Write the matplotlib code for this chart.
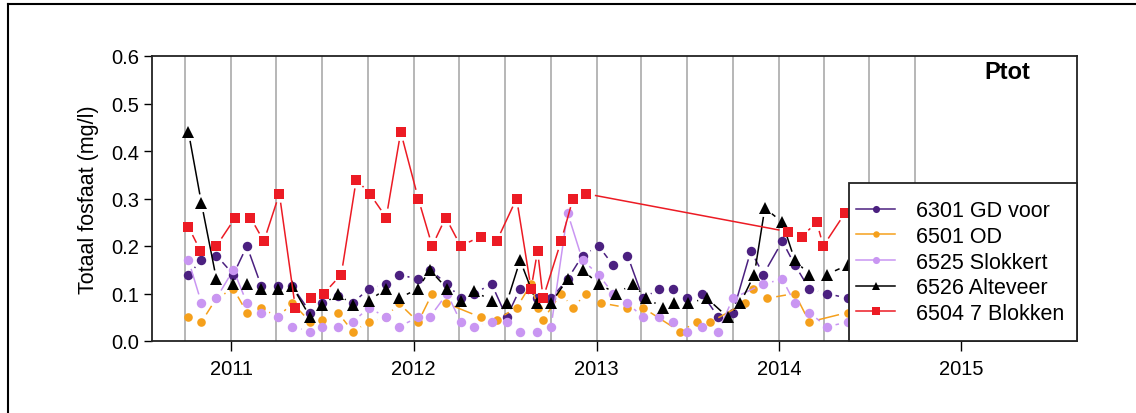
import numpy as np
import pandas as pd
import matplotlib
matplotlib.use("Agg")
import matplotlib.pyplot as plt
import matplotlib.dates as mdates
from matplotlib.collections import LineCollection
from matplotlib.lines import Line2D
from matplotlib.patches import Rectangle

plt.rcParams['font.family'] = ['Liberation Sans', 'DejaVu Sans']

# 6301 GD voor
dates_6301 = ["2010-10-07", "2010-11-02", "2010-12-02", "2011-01-05", "2011-02-01", "2011-03-02",
              "2011-04-04", "2011-05-03", "2011-06-08", "2011-07-02", "2011-08-02", "2011-09-01",
              "2011-10-03", "2011-11-07", "2011-12-02", "2012-01-10", "2012-02-02", "2012-03-08",
              "2012-04-04", "2012-05-01", "2012-06-05", "2012-07-05", "2012-08-01", "2012-09-03",
              "2012-10-02", "2012-11-04", "2012-12-04", "2013-01-05", "2013-02-03", "2013-03-04",
              "2013-04-04", "2013-05-07", "2013-06-03", "2013-07-01", "2013-07-31", "2013-09-02",
              "2013-10-01", "2013-11-06", "2013-12-01", "2014-01-08", "2014-02-02", "2014-03-03",
              "2014-04-07", "2014-05-19"]
ptot_6301 = [0.14, 0.17, 0.18, 0.14, 0.20, 0.115, 0.115, 0.115, 0.06, 0.08, 0.095, 0.08,
             0.11, 0.12, 0.14, 0.13, 0.15, 0.12, 0.09, 0.10, 0.12, 0.05, 0.11, 0.09,
             0.09, 0.13, 0.18, 0.20, 0.16, 0.18, 0.09, 0.11, 0.11, 0.09, 0.10, 0.05,
             0.06, 0.19, 0.14, 0.21, 0.16, 0.11, 0.10, 0.09]

# 6501 OD
dates_6501 = ["2010-10-07", "2010-11-02", "2010-12-02", "2011-01-05", "2011-02-01", "2011-03-02",
              "2011-04-04", "2011-05-03", "2011-06-08", "2011-07-02", "2011-08-02", "2011-09-01",
              "2011-10-03", "2011-11-07", "2011-12-02", "2012-01-10", "2012-02-07", "2012-03-05",
              "2012-05-14", "2012-06-15", "2012-07-25", "2012-08-23", "2012-09-05", "2012-09-16",
              "2012-10-22", "2012-11-15", "2012-12-11", "2013-01-10", "2013-03-04", "2013-04-04",
              "2013-06-17", "2013-07-21", "2013-08-17", "2013-10-26", "2013-11-11", "2013-12-09",
              "2014-02-02", "2014-03-03", "2014-05-19"]
ptot_6501 = [0.05, 0.04, 0.09, 0.11, 0.06, 0.07, 0.05, 0.08, 0.04, 0.045, 0.06, 0.02,
             0.04, 0.05, 0.08, 0.04, 0.10, 0.08, 0.05, 0.045, 0.07, 0.12, 0.07, 0.045,
             0.10, 0.07, 0.10, 0.08, 0.07, 0.07, 0.02, 0.04, 0.04, 0.08, 0.11, 0.09,
             0.10, 0.04, 0.06]

# 6525 Slokkert
dates_6525 = ["2010-10-07", "2010-11-02", "2010-12-02", "2011-01-05", "2011-02-01", "2011-03-02",
              "2011-04-04", "2011-05-03", "2011-06-08", "2011-07-02", "2011-08-02", "2011-09-01",
              "2011-10-03", "2011-11-07", "2011-12-02", "2012-01-10", "2012-02-02", "2012-03-08",
              "2012-04-04", "2012-05-01", "2012-06-05", "2012-07-05", "2012-08-01", "2012-09-03",
              "2012-10-02", "2012-11-04", "2012-12-04", "2013-01-05", "2013-02-03", "2013-03-04",
              "2013-04-04", "2013-05-07", "2013-06-03", "2013-07-01", "2013-07-31", "2013-09-02",
              "2013-10-01", "2013-12-01", "2014-01-08", "2014-02-02", "2014-03-03", "2014-04-07",
              "2014-05-19"]
ptot_6525 = [0.17, 0.08, 0.09, 0.15, 0.08, 0.06, 0.05, 0.03, 0.02, 0.03, 0.03, 0.04,
             0.07, 0.05, 0.03, 0.05, 0.05, 0.10, 0.04, 0.03, 0.04, 0.04, 0.02, 0.02,
             0.03, 0.27, 0.17, 0.14, 0.10, 0.08, 0.05, 0.05, 0.04, 0.02, 0.03, 0.02,
             0.09, 0.12, 0.13, 0.08, 0.06, 0.03, 0.04]

# 6526 Alteveer
dates_6526 = ["2010-10-07", "2010-11-02", "2010-12-02", "2011-01-05", "2011-02-01", "2011-03-02",
              "2011-04-04", "2011-05-03", "2011-06-08", "2011-07-02", "2011-08-02", "2011-09-01",
              "2011-10-03", "2011-11-07", "2011-12-02", "2012-01-10", "2012-02-02", "2012-03-08",
              "2012-04-04", "2012-05-01", "2012-06-05", "2012-07-05", "2012-08-01", "2012-09-03",
              "2012-10-02", "2012-11-04", "2012-12-04", "2013-01-05", "2013-02-10", "2013-03-15",
              "2013-04-11", "2013-05-15", "2013-06-06", "2013-07-04", "2013-08-10", "2013-09-21",
              "2013-10-16", "2013-11-13", "2013-12-04", "2014-01-08", "2014-02-02", "2014-03-03",
              "2014-04-07", "2014-05-19"]
ptot_6526 = [0.44, 0.29, 0.13, 0.12, 0.12, 0.11, 0.11, 0.115, 0.05, 0.075, 0.10, 0.075,
             0.085, 0.11, 0.09, 0.11, 0.15, 0.11, 0.085, 0.105, 0.085, 0.08, 0.17, 0.08,
             0.08, 0.13, 0.15, 0.12, 0.10, 0.12, 0.09, 0.07, 0.08, 0.08, 0.09, 0.05,
             0.08, 0.14, 0.28, 0.25, 0.17, 0.14, 0.14, 0.16]

# 6504 7 Blokken
dates_6504 = ["2010-10-07", "2010-10-31", "2010-12-02", "2011-01-09", "2011-02-08", "2011-03-07",
              "2011-04-07", "2011-05-09", "2011-06-09", "2011-07-05", "2011-08-09", "2011-09-08",
              "2011-10-05", "2011-11-07", "2011-12-06", "2012-01-10", "2012-02-07", "2012-03-05",
              "2012-04-04", "2012-05-14", "2012-06-15", "2012-07-25", "2012-08-23", "2012-09-05",
              "2012-09-16", "2012-10-22", "2012-11-15", "2012-12-11", "2014-01-20", "2014-02-16",
              "2014-03-18", "2014-03-31", "2014-05-14"]
ptot_6504 = [0.24, 0.19, 0.20, 0.26, 0.26, 0.21, 0.31, 0.07, 0.09, 0.10, 0.14, 0.34,
             0.31, 0.26, 0.44, 0.30, 0.20, 0.26, 0.20, 0.22, 0.21, 0.30, 0.11, 0.19,
             0.09, 0.21, 0.30, 0.31, 0.23, 0.22, 0.25, 0.20, 0.27]

series = [
    ("6301 GD voor", dates_6301, ptot_6301, "#4b2080", "o", 6.8),
    ("6501 OD", dates_6501, ptot_6501, "#f5a01c", "o", 6.2),
    ("6525 Slokkert", dates_6525, ptot_6525, "#c996f2", "o", 6.8),
    ("6526 Alteveer", dates_6526, ptot_6526, "#000000", "^", 8.0),
    ("6504 7 Blokken", dates_6504, ptot_6504, "#ec1b24", "s", 7.0),
]

GAP = 9.0  # pixels left open between a marker and its connecting line


def gapped_segments(ax, x, y, gap):
    pts = ax.transData.transform(np.column_stack([x, y]))
    inv = ax.transData.inverted()
    segs = []
    for p, q in zip(pts[:-1], pts[1:]):
        d = q - p
        n = np.hypot(d[0], d[1])
        if n <= 2 * gap:
            continue
        u = d / n
        segs.append(inv.transform(np.array([p + u * gap, q - u * gap])))
    return segs


fig = plt.figure(figsize=(11.36, 4.14), dpi=100)
ax = fig.add_axes([152 / 1136, 1 - 342 / 414, 925 / 1136, 285 / 414])

ax.set_xlim(mdates.date2num(pd.Timestamp("2010-07-26")), mdates.date2num(pd.Timestamp("2015-08-21")))
ax.set_ylim(0, 0.6)

# quarterly vertical grid
for q in pd.date_range("2010-10-01", "2014-10-01", freq="QS"):
    ax.axvline(mdates.date2num(q), color="#a3a3a3", lw=1.1, zorder=0)

handles = []
for i, (name, d, v, col, mk, ms) in enumerate(series):
    x = mdates.date2num(pd.to_datetime(d))
    segs = gapped_segments(ax, x, np.asarray(v), GAP)
    ax.add_collection(LineCollection(segs, colors=col, linewidths=1.1, zorder=2 + i))
    ax.plot(x, v, linestyle="none", marker=mk, ms=ms, color=col, markeredgewidth=0, zorder=2 + i)
    handles.append(Line2D([], [], color=col, lw=1.1, marker=mk, ms=ms * 0.75, markeredgewidth=0))

ax.xaxis.set_major_locator(mdates.YearLocator())
ax.xaxis.set_major_formatter(mdates.DateFormatter("%Y"))
ax.set_yticks(np.arange(0, 0.61, 0.1))
ax.set_yticklabels([f"{t:.1f}" for t in np.arange(0, 0.61, 0.1)])
ax.tick_params(axis="x", direction="out", length=7, width=1, pad=6, labelsize=14.5)
ax.tick_params(axis="y", direction="out", length=6, width=1, pad=3, labelsize=14.5)
for s in ax.spines.values():
    s.set_linewidth(1.3)
    s.set_color("#222222")

ax.set_ylabel("Totaal fosfaat (mg/l)", fontsize=15.5)
ax.yaxis.set_label_coords(-0.057, 0.5)

ax.text(0.925, 0.944, "Ptot", transform=ax.transAxes, ha="center", va="center",
        fontsize=17, fontweight="bold")

# legend box sits in the lower right corner of the axes
box_x0, box_h = (849 - 152) / 925, (342 - 184) / 285
ax.add_patch(Rectangle((box_x0, 0), 1 - box_x0, box_h, transform=ax.transAxes,
                       facecolor="white", edgecolor="#222222", lw=1.3, zorder=19, clip_on=False))
leg = ax.legend(handles, [s[0] for s in series], loc="center", bbox_to_anchor=(0.874, 0.277),
                fontsize=15.5, frameon=False, handlelength=1.8, handletextpad=1.0,
                labelspacing=0.22, borderpad=0.2)
leg.set_zorder(20)

# outer frame lines along the top and left
fig.add_artist(Line2D([8 / 1136, 1.0], [1 - 4.5 / 414, 1 - 4.5 / 414], color="black", lw=1.5))
fig.add_artist(Line2D([8 / 1136, 8 / 1136], [0.0, 1 - 4.5 / 414], color="black", lw=1.5))

fig.savefig("out.png", dpi=100)
